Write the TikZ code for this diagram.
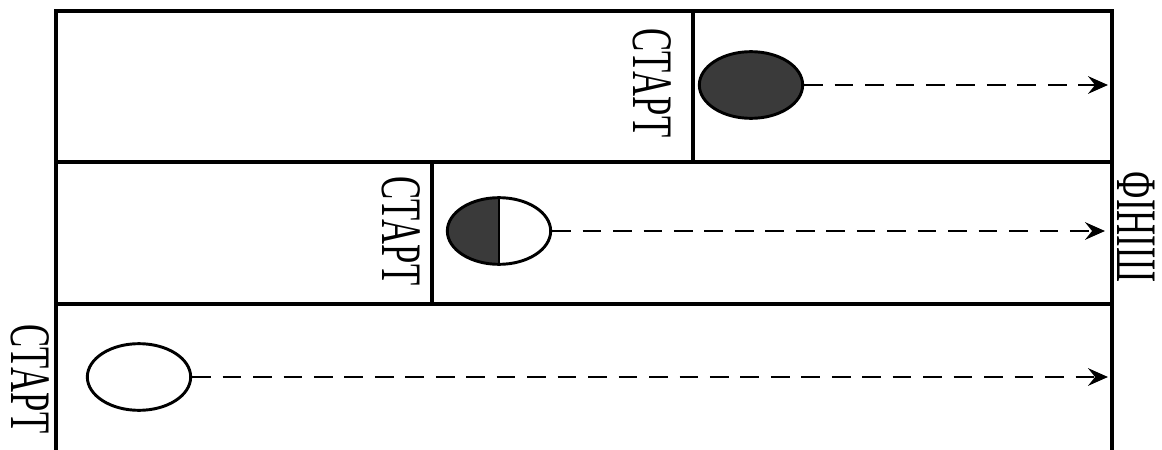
\documentclass[tikz,border=0pt]{standalone}
\usepackage{fontspec}
\setmainfont{Liberation Serif}
\usetikzlibrary{shapes.geometric,arrows.meta,positioning}
\definecolor{balldark}{RGB}{58,58,58}

\tikzset{
  lane/.style={line width=3pt},
  ball/.style={ellipse, draw, line width=2.5pt, inner sep=0pt,
    minimum width=3.1cm, minimum height=2cm},
  run/.style={line width=2.3pt, dash pattern=on 16pt off 10pt,
    -{Stealth[length=17pt,width=15pt,inset=6pt]}},
  tag/.style={rotate=-90, inner sep=0pt, font=\fontsize{29.6}{30}\selectfont}
}
% letters are drawn taller than wide
\newcommand{\tallword}[1]{\scalebox{1}[1.65]{#1}}

\begin{document}
\begin{tikzpicture}[x=0.03cm, y=-0.03cm]
\useasboundingbox (0,0) rectangle (1162,450);

% Frame and lanes
\draw[lane] (56,450) -- (56,11) -- (1112,11) -- (1112,450);
\draw[lane] (56,162) -- (1112,162);
\draw[lane] (56,304) -- (1112,304);
\draw[lane] (693,11) -- (693,162);
\draw[lane] (432,162) -- (432,304);

% Start labels
\node[tag] (starttop) at (652,83) {\tallword{СТАРТ}};
\node[tag] (startmid) at (401,231) {\tallword{СТАРТ}};
\node[tag] (startlow) at (30,379) {\tallword{СТАРТ}};
\node[tag] (finish) at (1136,227) {\tallword{ФІНІШ}};

% Balls
\node[ball, fill=balldark] (balltop) at (751,85) {};
\node[ball, fill=white, path picture={
    \fill[balldark] (path picture bounding box.south west) rectangle (path picture bounding box.north);
    \draw[line width=2.2pt] (path picture bounding box.north) -- (path picture bounding box.south);
  }] (ballmid) at (499,231) {};
\node[ball, fill=white] (balllow) at (139,377) {};

% Runs to the finish line
\coordinate (endtop) at (1108,85);
\coordinate (endmid) at (1105,231);
\coordinate (endlow) at (1108,377);
\draw[run] (balltop.east) -- (endtop);
\draw[run] (ballmid.east) -- (endmid);
\draw[run] (balllow.east) -- (endlow);
\end{tikzpicture}
\end{document}
